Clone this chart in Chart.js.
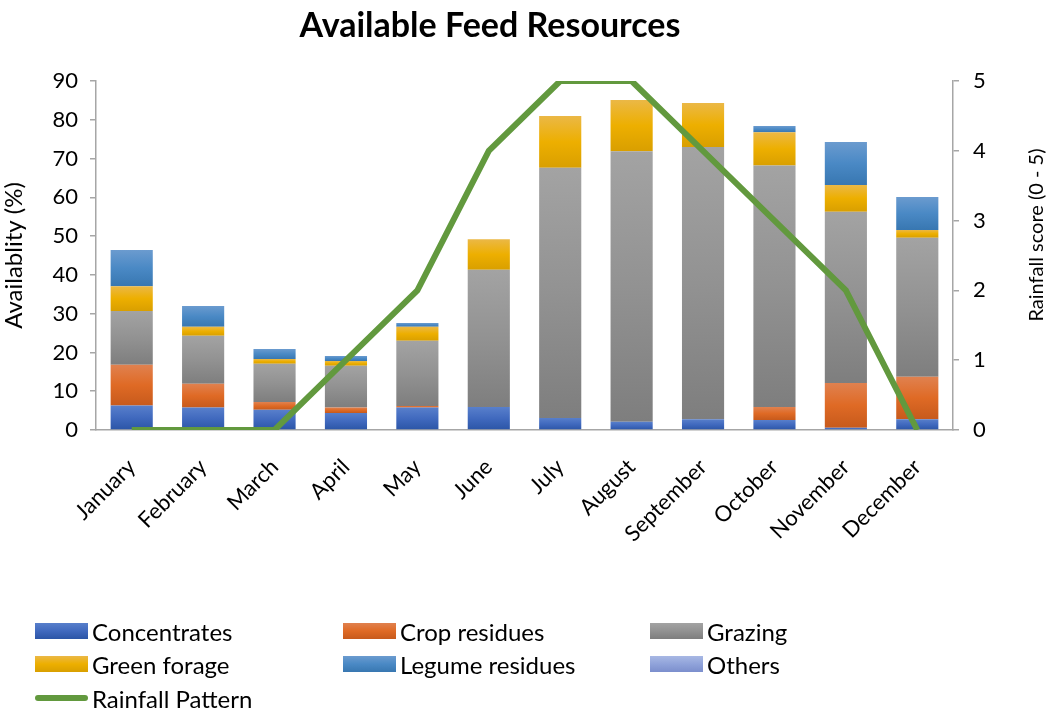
<!DOCTYPE html>
<html>
<head>
<meta charset="utf-8">
<script src="https://cdn.jsdelivr.net/npm/chart.js@4.4.1/dist/chart.umd.min.js"></script>
<style>
  body { margin: 0; background: #fff; }
  #wrap { position: relative; width: 1050px; height: 708px; font-family: Lato, "Open Sans", sans-serif; }
  #title { position: absolute; left: 0; top: 7px; width: 980px; text-align: center; font-size: 34px; line-height: 34px; font-weight: bold; color: #000; }
  #legend .item { position: absolute; display: flex; align-items: center; font-size: 24px; color: #000; white-space: nowrap; }
  #legend .swatch { width: 53px; height: 16px; margin-right: 4px; }
  #legend .lineSwatch { width: 53px; height: 6px; border-radius: 3px; margin-right: 4px; }
</style>
</head>
<body>
<div id="wrap">
  <canvas id="feedChart" width="1050" height="708"></canvas>
  <div id="title">Available Feed Resources</div>
  <div id="legend"></div>
</div>
<script>
const months = ['January', 'February', 'March', 'April', 'May', 'June',
  'July', 'August', 'September', 'October', 'November', 'December'];

const concentrates = [6.3, 5.8, 5.2, 4.4, 5.8, 5.9, 3.1, 2.1, 2.8, 2.6, 0.6, 2.8];
const cropResidues = [10.5, 6.1, 2.0, 1.4, 0.4, 0, 0, 0, 0, 3.3, 11.5, 10.9];
const grazing = [13.9, 12.4, 9.9, 10.8, 16.8, 35.4, 64.5, 69.8, 70.2, 62.3, 44.2, 35.9];
const greenForage = [6.4, 2.3, 1.2, 1.2, 3.6, 7.9, 13.4, 13.2, 11.3, 8.6, 6.9, 2.0];
const legumeResidues = [9.3, 5.4, 2.6, 1.3, 1.0, 0, 0, 0, 0, 1.6, 11.1, 8.5];
const others = [0, 0, 0, 0, 0, 0, 0, 0, 0, 0, 0, 0];
const rainfall = [0, 0, 0, 1, 2, 4, 5, 5, 4, 3, 2, 0];

const availabilityTicks = [0, 10, 20, 30, 40, 50, 60, 70, 80, 90];
const rainfallTicks = [0, 1, 2, 3, 4, 5];

// top / middle / bottom colours of each vertical gradient
const series = [
  { label: 'Concentrates', data: concentrates, stops: ['#587FCB', '#4069BE', '#2B55A6'] },
  { label: 'Crop residues', data: cropResidues, stops: ['#E0814F', '#DF6A25', '#C75A1C'] },
  { label: 'Grazing', data: grazing, stops: ['#A3A3A3', '#929292', '#7E7E7E'] },
  { label: 'Green forage', data: greenForage, stops: ['#EBB846', '#EDAF00', '#D99F00'] },
  { label: 'Legume residues', data: legumeResidues, stops: ['#6B9BCF', '#4A89C5', '#3877B1'] },
  { label: 'Others', data: others, stops: ['#A8B8E4', '#90A3DA', '#7C8FCD'] }
];
const rainColor = '#62993E';
const axisColor = '#A6A6A6';
const fontFamily = 'Lato, "Open Sans", sans-serif';

function segmentGradient(ctx, s, si) {
  const chart = ctx.chart;
  if (ctx.type !== 'data' || !chart.chartArea) return s.stops[1];
  const i = ctx.dataIndex;
  let base = 0;
  for (let k = 0; k < si; k++) base += series[k].data[i];
  const yScale = chart.scales.y;
  const top = yScale.getPixelForValue(base + s.data[i]);
  const bottom = yScale.getPixelForValue(base);
  if (!isFinite(top) || !isFinite(bottom) || bottom - top < 0.5) return s.stops[1];
  const g = chart.ctx.createLinearGradient(0, top, 0, bottom);
  g.addColorStop(0, s.stops[0]);
  g.addColorStop(0.5, s.stops[1]);
  g.addColorStop(1, s.stops[2]);
  return g;
}

const barSets = series.map((s, si) => ({
  type: 'bar',
  label: s.label,
  data: s.data,
  yAxisID: 'y',
  stack: 'feed',
  order: 1,
  borderWidth: 0,
  barPercentage: 0.59,
  categoryPercentage: 1.0,
  backgroundColor: ctx => segmentGradient(ctx, s, si)
}));

const rainSet = {
  type: 'line',
  label: 'Rainfall Pattern',
  data: rainfall,
  yAxisID: 'y1',
  order: 0,
  borderColor: rainColor,
  backgroundColor: rainColor,
  borderWidth: 6,
  pointRadius: 0,
  tension: 0,
  fill: false
};

// right-hand axis title reads bottom to top
const rightTitle = {
  id: 'rightTitle',
  afterDraw(chart) {
    const c = chart.ctx;
    c.save();
    c.translate(1037, 235);
    c.rotate(-Math.PI / 2);
    c.font = '20px ' + fontFamily;
    c.fillStyle = '#000';
    c.textAlign = 'center';
    c.textBaseline = 'middle';
    c.fillText('Rainfall score (0 - 5)', 0, 0);
    c.restore();
  }
};

new Chart(document.getElementById('feedChart').getContext('2d'), {
  data: { labels: months, datasets: [...barSets, rainSet] },
  options: {
    responsive: false,
    animation: false,
    devicePixelRatio: 1,
    layout: { padding: { left: 0, right: 0, top: 81, bottom: 0 } },
    plugins: {
      legend: { display: false },
      tooltip: { enabled: false },
      title: { display: false }
    },
    scales: {
      x: {
        stacked: true,
        grid: { display: true, drawOnChartArea: false, drawTicks: false },
        border: { color: axisColor, width: 1.5 },
        ticks: {
          color: '#000',
          font: { family: fontFamily, size: 22 },
          minRotation: 45,
          maxRotation: 45,
          autoSkip: false,
          padding: 24
        },
        afterFit: scale => { scale.height = 278; }
      },
      y: {
        stacked: true,
        position: 'left',
        min: 0,
        max: 90,
        afterBuildTicks: scale => { scale.ticks = availabilityTicks.map(v => ({ value: v })); },
        grid: { drawOnChartArea: false, tickLength: 6, color: axisColor, lineWidth: 1.5 },
        border: { color: axisColor, width: 1.5 },
        ticks: { color: '#000', font: { family: fontFamily, size: 22 }, padding: 12 },
        title: {
          display: true,
          text: 'Availablity (%)',
          color: '#000',
          font: { family: fontFamily, size: 24 },
          padding: 0
        },
        afterFit: scale => { scale.width = 96; }
      },
      y1: {
        position: 'right',
        min: 0,
        max: 5,
        afterBuildTicks: scale => { scale.ticks = rainfallTicks.map(v => ({ value: v })); },
        grid: { drawOnChartArea: false, tickLength: 6, color: axisColor, lineWidth: 1.5 },
        border: { color: axisColor, width: 1.5 },
        ticks: { color: '#000', font: { family: fontFamily, size: 22 }, padding: 14 },
        afterFit: scale => { scale.width = 97; }
      }
    }
  },
  plugins: [rightTitle]
});

// legend: three columns, bars first then the rainfall line
const legendBox = document.getElementById('legend');
const colX = [35, 343, 650];
const rowY = [631, 664, 698];
series.forEach((s, i) => {
  const item = document.createElement('div');
  item.className = 'item';
  item.style.left = colX[i % 3] + 'px';
  item.style.top = (rowY[Math.floor(i / 3)] - 14) + 'px';
  item.style.height = '28px';
  const sw = document.createElement('span');
  sw.className = 'swatch';
  sw.style.background = `linear-gradient(${s.stops[0]}, ${s.stops[1]} 50%, ${s.stops[2]})`;
  const tx = document.createElement('span');
  tx.textContent = s.label;
  item.appendChild(sw);
  item.appendChild(tx);
  legendBox.appendChild(item);
});
const rainItem = document.createElement('div');
rainItem.className = 'item';
rainItem.style.left = colX[0] + 'px';
rainItem.style.top = (rowY[2] - 14) + 'px';
rainItem.style.height = '28px';
const rainSw = document.createElement('span');
rainSw.className = 'lineSwatch';
rainSw.style.background = rainColor;
const rainTx = document.createElement('span');
rainTx.textContent = rainSet.label;
rainItem.appendChild(rainSw);
rainItem.appendChild(rainTx);
legendBox.appendChild(rainItem);
</script>
</body>
</html>
